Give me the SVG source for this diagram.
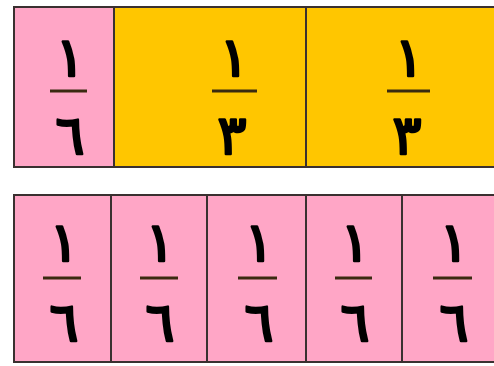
<svg xmlns="http://www.w3.org/2000/svg" width="494" height="366" viewBox="0 0 494 366">
<style>
.pink{fill:#FFA6C6;stroke:#3a3030;stroke-width:2}
.gold{fill:#FFC600;stroke:#3a3030;stroke-width:2}
.bar{stroke:#3a2a10;stroke-width:3}
.d{font-family:"DejaVu Sans",sans-serif;font-size:54px;fill:#000;stroke:#000;stroke-width:2.6;stroke-linejoin:round;text-anchor:middle}
</style>
<rect width="494" height="366" fill="#fff"/>
<g id="top-sixth">
<rect class="pink" x="14" y="7" width="100" height="160"/>
<text class="d" x="70" y="76">١</text>
<line class="bar" x1="50" y1="91" x2="87" y2="91"/>
<text class="d" x="70" y="154">٦</text>
</g>
<g id="top-third-1">
<rect class="gold" x="114" y="7" width="192" height="160"/>
<text class="d" x="234" y="76">١</text>
<line class="bar" x1="212" y1="91" x2="257" y2="91"/>
<text class="d" x="232" y="154">٣</text>
</g>
<g id="top-third-2">
<rect class="gold" x="306" y="7" width="200" height="160"/>
<text class="d" x="409" y="76">١</text>
<line class="bar" x1="387" y1="91" x2="430" y2="91"/>
<text class="d" x="407" y="154">٣</text>
</g>
<g id="bottom-1">
<rect class="pink" x="14" y="195" width="97" height="167"/>
<text class="d" x="64" y="261">١</text>
<line class="bar" x1="43" y1="278" x2="81" y2="278"/>
<text class="d" x="64" y="341">٦</text>
</g>
<g id="bottom-2">
<rect class="pink" x="111" y="195" width="96" height="167"/>
<text class="d" x="160" y="261">١</text>
<line class="bar" x1="140" y1="278" x2="178" y2="278"/>
<text class="d" x="160" y="341">٦</text>
</g>
<g id="bottom-3">
<rect class="pink" x="207" y="195" width="99" height="167"/>
<text class="d" x="259" y="261">١</text>
<line class="bar" x1="238" y1="278" x2="277" y2="278"/>
<text class="d" x="259" y="341">٦</text>
</g>
<g id="bottom-4">
<rect class="pink" x="306" y="195" width="96" height="167"/>
<text class="d" x="355" y="261">١</text>
<line class="bar" x1="335" y1="278" x2="372" y2="278"/>
<text class="d" x="355" y="341">٦</text>
</g>
<g id="bottom-5">
<rect class="pink" x="402" y="195" width="100" height="167"/>
<text class="d" x="454" y="261">١</text>
<line class="bar" x1="433" y1="278" x2="472" y2="278"/>
<text class="d" x="454" y="341">٦</text>
</g>
</svg>
